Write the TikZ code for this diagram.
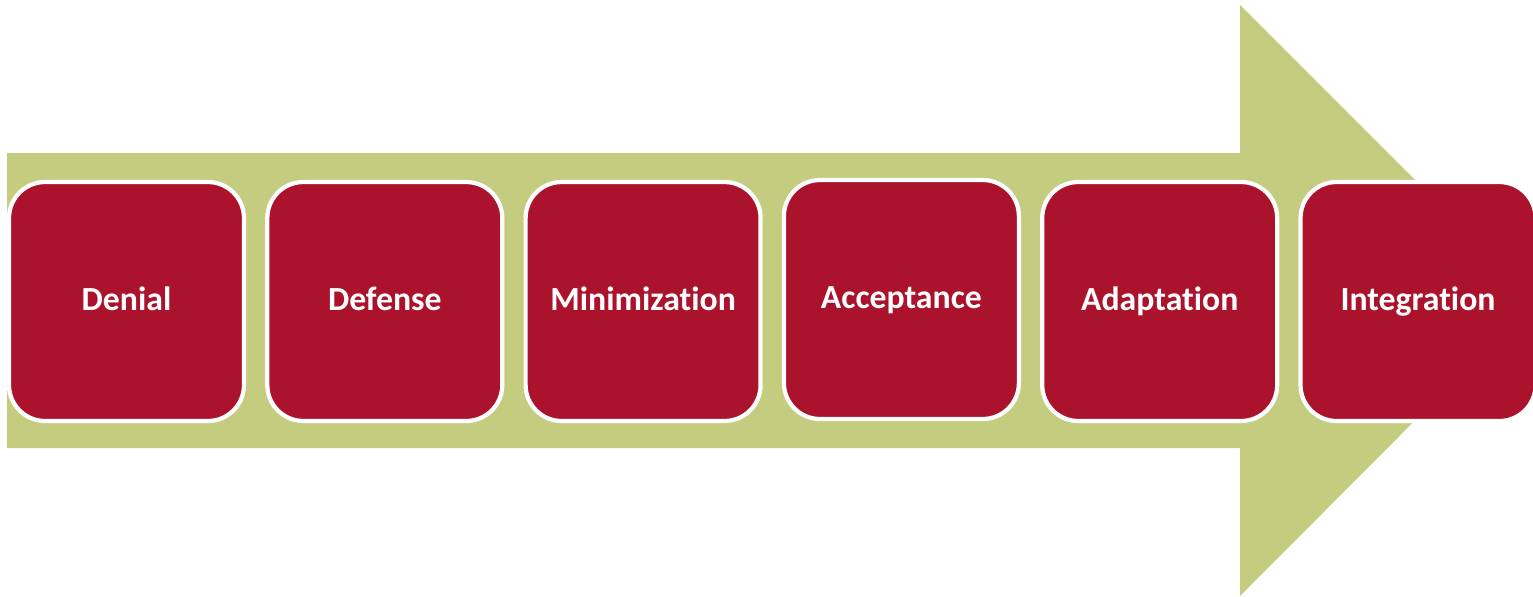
\documentclass[tikz,border=0pt]{standalone}
\usepackage{fontspec}
\setmainfont{Carlito}[Ligatures=NoCommon]
\definecolor{arrowgreen}{RGB}{196,205,127}
\definecolor{boxred}{RGB}{171,18,43}
\tikzset{
  stage/.style={draw=white, line width=2.4pt, fill=boxred, rounded corners=0.72cm,
    minimum width=4.7cm, minimum height=4.78cm, inner sep=0pt,
    text=white, font=\bfseries\fontsize{19.2}{23}\selectfont,
    text height=0.98em, text depth=0pt, align=center}
}
\begin{document}
\begin{tikzpicture}[x=0.02cm, y=-0.02cm]
\useasboundingbox (0,0) rectangle (1533,596);
\clip (0,0) rectangle (1533,596);
\fill[arrowgreen] (7,153) -- (1240,153) -- (1240,5) -- (1535,300) -- (1240,596) -- (1240,448) -- (7,448) -- cycle;
\node[stage] (s1) at (126.5,301.5) {Denial};
\node[stage] (s2) at (384.8,301.5) {Defense};
\node[stage] (s3) at (643.1,301.5) {Minimization};
\node[stage] (s4) at (901.4,299.5) {Acceptance};
\node[stage] (s5) at (1159.7,301.5) {Adaptation};
\node[stage] (s6) at (1418,301.5) {Integration};
\end{tikzpicture}
\end{document}
